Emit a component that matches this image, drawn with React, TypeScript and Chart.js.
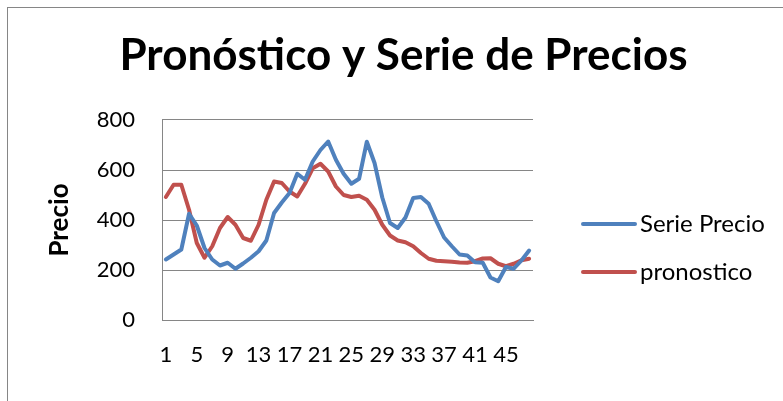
import React, { useEffect, useRef } from "react";
import { Chart, registerables } from "chart.js";

Chart.register(...registerables);

const categories = [
  "1", "2", "3", "4", "5", "6", "7", "8", "9", "10", "11", "12",
  "13", "14", "15", "16", "17", "18", "19", "20", "21", "22", "23", "24",
  "25", "26", "27", "28", "29", "30", "31", "32", "33", "34", "35", "36",
  "37", "38", "39", "40", "41", "42", "43", "44", "45", "46", "47", "48",
];

const serieValues = [
  242, 262, 282, 425, 378, 288, 242, 218, 229, 205, 226, 249,
  275, 318, 428, 470, 508, 585, 561, 634, 680, 714, 641, 585,
  545, 565, 713, 628, 490, 388, 368, 410, 488, 492, 465, 395,
  330, 295, 262, 258, 231, 229, 170, 155, 212, 205, 238, 278,
];

const pronosticoValues = [
  492, 541, 541, 441, 308, 249, 295, 368, 412, 381, 328, 317,
  381, 481, 554, 548, 514, 494, 545, 607, 625, 594, 534, 500,
  492, 497, 481, 441, 381, 338, 318, 311, 295, 268, 245, 237,
  235, 233, 230, 229, 235, 246, 247, 225, 215, 225, 239, 245,
];

const xTickLabels = ["1", "5", "9", "13", "17", "21", "25", "29", "33", "37", "41", "45"];
const yTickValues = [0, 200, 400, 600, 800];

const titleText = "Pronóstico y Serie de Precios";
const yAxisTitle = "Precio";
const seriesNames = ["Serie Precio", "pronostico"];

const FONT = "Lato, 'Open Sans', sans-serif";
const GRID = "#868686";

const legendPlugin = {
  id: "excelLegend",
  afterDraw(chart: any) {
    const { ctx, chartArea } = chart;
    chart.data.datasets.forEach((ds: any, i: number) => {
      const y = chartArea.top + 104 + i * 48;
      const x0 = chartArea.right + 50;
      ctx.save();
      ctx.strokeStyle = ds.borderColor;
      ctx.lineWidth = 4;
      ctx.lineCap = "round";
      ctx.beginPath();
      ctx.moveTo(x0, y);
      ctx.lineTo(x0 + 52, y);
      ctx.stroke();
      ctx.fillStyle = "#000";
      ctx.font = `24px ${FONT}`;
      ctx.textBaseline = "middle";
      ctx.textAlign = "left";
      ctx.fillText(ds.label, x0 + 57, y);
      ctx.restore();
    });
  },
};

export default function App() {
  const canvasRef = useRef<HTMLCanvasElement | null>(null);

  useEffect(() => {
    if (!canvasRef.current) return;
    const chart = new Chart(canvasRef.current, {
      type: "line",
      data: {
        labels: categories,
        datasets: [
          {
            label: seriesNames[0],
            data: serieValues,
            borderColor: "#4F81BD",
            backgroundColor: "#4F81BD",
            borderWidth: 4,
            pointRadius: 0,
            tension: 0,
            borderJoinStyle: "round",
            borderCapStyle: "round",
          },
          {
            label: seriesNames[1],
            data: pronosticoValues,
            borderColor: "#C0504D",
            backgroundColor: "#C0504D",
            borderWidth: 4,
            pointRadius: 0,
            tension: 0,
            borderJoinStyle: "round",
            borderCapStyle: "round",
          },
        ],
      },
      options: {
        responsive: false,
        animation: false,
        layout: { padding: { left: 24, right: 0, top: 0, bottom: 0 } },
        plugins: {
          legend: { display: false },
          tooltip: { enabled: false },
          title: {
            display: true,
            text: titleText,
            color: "#000",
            font: { family: FONT, size: 44, weight: "bold" },
            padding: { top: 29.4, bottom: 37.8 },
          },
        },
        scales: {
          x: {
            type: "category",
            offset: true,
            grid: { display: false, drawTicks: false },
            border: { display: true, color: GRID, width: 1 },
            ticks: {
              autoSkip: false,
              maxRotation: 0,
              minRotation: 0,
              padding: 22,
              color: "#000",
              font: { family: FONT, size: 22 },
              callback: (_v: any, index: number) =>
                xTickLabels.includes(categories[index]) ? categories[index] : "",
            },
            afterFit: (scale: any) => {
              scale.height = 81;
            },
          },
          y: {
            min: 0,
            max: 800,
            afterBuildTicks: (scale: any) => {
              scale.ticks = yTickValues.map((v) => ({ value: v }));
            },
            grid: { color: GRID, lineWidth: 1, drawTicks: false },
            border: { display: true, color: GRID, width: 1 },
            ticks: {
              padding: 27,
              color: "#000",
              font: { family: FONT, size: 22 },
            },
            title: {
              display: true,
              text: yAxisTitle,
              color: "#000",
              font: { family: FONT, size: 26, weight: "bold" },
              padding: { top: 20, bottom: 0 },
            },
            afterFit: (scale: any) => {
              scale.width = 138;
            },
          },
          legendSpace: {
            type: "linear",
            position: "right",
            display: true,
            grid: { display: false, drawTicks: false },
            border: { display: false },
            ticks: { display: false },
            afterFit: (scale: any) => {
              scale.width = 250;
            },
          },
        },
      },
      plugins: [legendPlugin],
    } as any);
    return () => chart.destroy();
  }, []);

  return (
    <div
      style={{
        position: "fixed",
        left: 0,
        top: 0,
        width: 783,
        height: 401,
        overflow: "hidden",
        background: "#fff",
      }}
    >
      <div
        style={{
          position: "absolute",
          left: 7,
          top: 7,
          width: 820,
          height: 440,
          borderLeft: `1px solid ${GRID}`,
          borderTop: `1px solid ${GRID}`,
        }}
      />
      <canvas
        ref={canvasRef}
        width={783}
        height={401}
        style={{ position: "absolute", left: 0, top: 0, display: "block" }}
      />
    </div>
  );
}
